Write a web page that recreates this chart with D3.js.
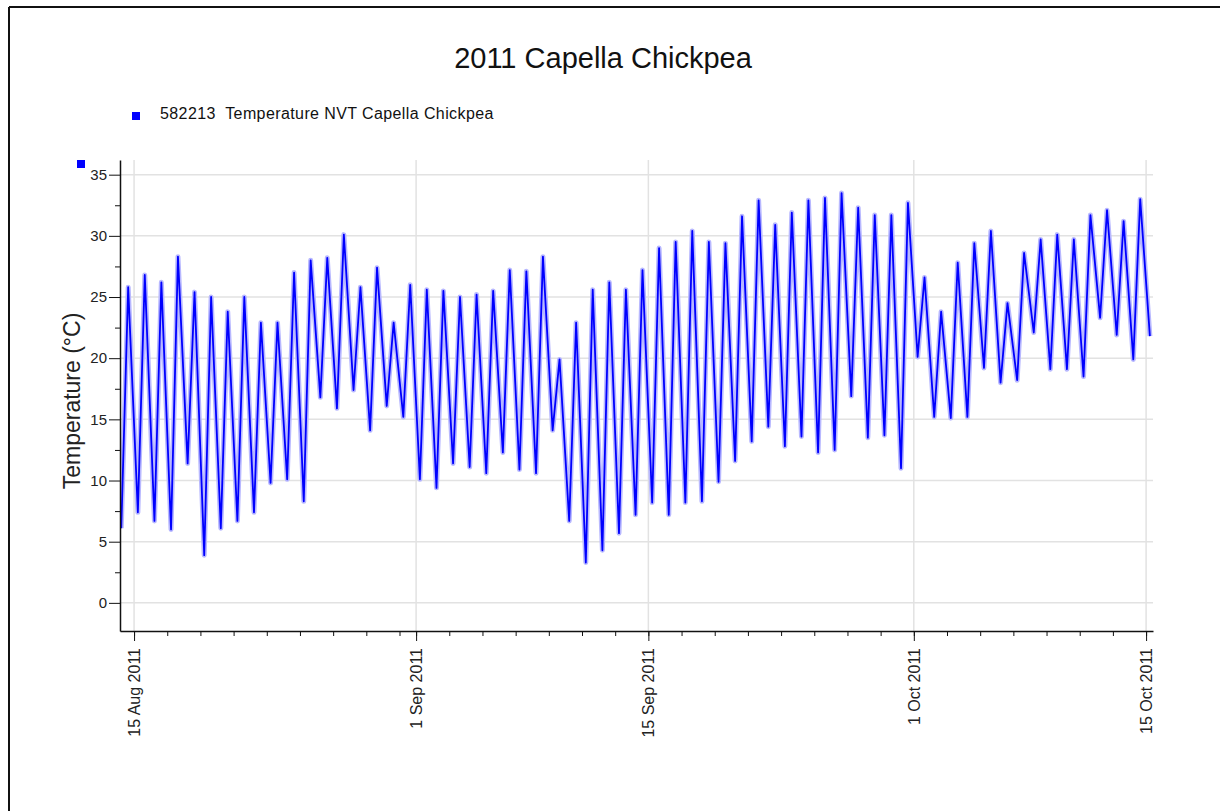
<!DOCTYPE html>
<html>
<head>
<meta charset="utf-8">
<script src="https://cdn.jsdelivr.net/npm/d3@7"></script>
<style>
    body { margin: 0; background: #fff; }
    svg { display: block; font-family: 'Liberation Sans', Arial, sans-serif; }
</style>
</head>
<body>
<div id="chart"></div>
<script>
// Daily maximum temperatures (afternoon), 14 Aug 2011 to 14 Oct 2011.
var maxTemps = [25.8, 26.8, 26.2, 28.3, 25.4, 25.0, 23.8, 25.0, 22.9, 22.9,
    27.0, 28.0, 28.2, 30.1, 25.8, 27.4, 22.9, 26.0, 25.6, 25.5,
    25.0, 25.2, 25.5, 27.2, 27.1, 28.3, 19.9, 22.9, 25.6, 26.2,
    25.6, 27.2, 29.0, 29.5, 30.4, 29.5, 29.4, 31.6, 32.9, 30.9,
    31.9, 32.9, 33.1, 33.5, 32.3, 31.7, 31.7, 32.7, 26.6, 23.8,
    27.8, 29.4, 30.4, 24.5, 28.6, 29.7, 30.1, 29.7, 31.7, 32.1,
    31.2, 33.0];
// Daily minimum temperatures (early morning), 14 Aug 2011 to 15 Oct 2011.
var minTemps = [6.1, 7.4, 6.7, 6.0, 11.4, 3.9, 6.1, 6.7, 7.4, 9.8,
    10.1, 8.3, 16.8, 15.9, 17.4, 14.1, 16.1, 15.2, 10.1, 9.4,
    11.4, 11.1, 10.6, 12.3, 10.9, 10.6, 14.1, 6.7, 3.3, 4.3,
    5.7, 7.2, 8.2, 7.2, 8.2, 8.3, 9.9, 11.6, 13.2, 14.4,
    12.8, 13.6, 12.3, 12.5, 16.9, 13.5, 13.7, 11.0, 20.1, 15.2,
    15.1, 15.2, 19.2, 18.0, 18.2, 22.1, 19.1, 19.1, 18.5, 23.3,
    21.9, 19.9, 21.8];
// Major date ticks and value ticks.
var dateTicks = ['2011-08-15', '2011-09-01', '2011-09-15', '2011-10-01', '2011-10-15'];
var tempTicks = [0, 5, 10, 15, 20, 25, 30, 35];

var title = '2011 Capella Chickpea';
var seriesName = '582213  Temperature NVT Capella Chickpea';

var width = 1220, height = 811;
var plot = {left: 120, right: 1153, top: 160, bottom: 631};

var parseDay = d3.timeParse('%Y-%m-%d');
var firstDay = parseDay('2011-08-14');

// Build the series: a morning minimum and an afternoon maximum per day.
var points = [];
minTemps.forEach(function (v, i) {
    var day = d3.timeDay.offset(firstDay, i);
    points.push({date: d3.timeMinute.offset(day, 330), value: v});
    if (i < maxTemps.length) {
        points.push({date: d3.timeMinute.offset(day, 930), value: maxTemps[i]});
    }
});

var svg = d3.select('#chart').append('svg')
    .attr('width', width)
    .attr('height', height);

// Frame lines at the top and left of the picture.
svg.append('line').attr('x1', 9).attr('y1', 7).attr('x2', width).attr('y2', 7)
    .attr('stroke', '#111').attr('stroke-width', 2);
svg.append('line').attr('x1', 9).attr('y1', 7).attr('x2', 9).attr('y2', height)
    .attr('stroke', '#111').attr('stroke-width', 2);

// Scales.
var xScale = d3.scaleTime()
    .domain([new Date(2011, 7, 14, 3, 40), new Date(2011, 9, 15, 10, 0)])
    .range([plot.left, plot.right]);
var yScale = d3.scaleLinear()
    .domain([-2.3, 36.2])
    .range([plot.bottom, plot.top]);

var majorDates = dateTicks.map(parseDay);
var minorDates = d3.timeDay.range(parseDay('2011-08-15'), parseDay('2011-10-16'))
    .filter(function (d) { return d.getDate() % 2 === 1; });
var minorTemps = d3.range(2.5, 36, 5);

// Grid lines.
var grid = svg.append('g').attr('stroke', '#e2e2e2').attr('stroke-width', 1.5);
grid.selectAll('.hgrid').data(tempTicks).enter().append('line')
    .attr('x1', plot.left).attr('x2', plot.right)
    .attr('y1', function (d) { return yScale(d); })
    .attr('y2', function (d) { return yScale(d); });
grid.selectAll('.vgrid').data(majorDates).enter().append('line')
    .attr('y1', plot.top).attr('y2', plot.bottom)
    .attr('x1', function (d) { return xScale(d); })
    .attr('x2', function (d) { return xScale(d); });

// Temperature line, with a pale halo underneath.
svg.append('clipPath').attr('id', 'clip').append('rect')
    .attr('x', plot.left).attr('y', plot.top)
    .attr('width', plot.right - plot.left).attr('height', plot.bottom - plot.top);
var line = d3.line()
    .x(function (d) { return xScale(d.date); })
    .y(function (d) { return yScale(d.value); });
var lines = svg.append('g').attr('clip-path', 'url(#clip)');
lines.append('path').datum(points)
    .attr('d', line)
    .attr('fill', 'none')
    .attr('stroke', '#b8b8ff')
    .attr('stroke-width', 5)
    .attr('stroke-linejoin', 'round');
lines.append('path').datum(points)
    .attr('d', line)
    .attr('fill', 'none')
    .attr('stroke', '#0000ff')
    .attr('stroke-width', 1.8)
    .attr('stroke-linejoin', 'round');

// Y axis: major ticks with labels, minor ticks between.
var yAxis = svg.append('g')
    .attr('transform', 'translate(' + plot.left + ',0)')
    .call(d3.axisLeft(yScale).tickValues(tempTicks).tickSize(11).tickPadding(2).tickSizeOuter(0))
    .attr('font-family', null);
yAxis.selectAll('text').attr('font-size', 15).attr('fill', '#222');
svg.append('g')
    .attr('transform', 'translate(' + plot.left + ',0)')
    .call(d3.axisLeft(yScale).tickValues(minorTemps).tickSize(5).tickFormat('').tickSizeOuter(0))
    .select('.domain').remove();

// X axis: major date ticks with rotated labels, minor ticks every two days.
var fmt = d3.timeFormat('%-d %b %Y');
var xAxis = svg.append('g')
    .attr('transform', 'translate(0,' + plot.bottom + ')')
    .call(d3.axisBottom(xScale).tickValues(majorDates).tickFormat(fmt).tickSize(10).tickSizeOuter(0))
    .attr('font-family', null);
xAxis.selectAll('text')
    .attr('font-size', 16)
    .attr('fill', '#222')
    .attr('text-anchor', 'end')
    .attr('transform', 'rotate(-90)')
    .attr('x', -17)
    .attr('y', 0)
    .attr('dy', '0.35em');
svg.append('g')
    .attr('transform', 'translate(0,' + plot.bottom + ')')
    .call(d3.axisBottom(xScale).tickValues(minorDates).tickSize(5).tickFormat('').tickSizeOuter(0))
    .select('.domain').remove();
svg.selectAll('.domain').attr('stroke', '#111').attr('stroke-width', 1.5);
svg.selectAll('.tick line').attr('stroke', '#111');

// Y axis title.
svg.append('text')
    .attr('transform', 'translate(80,401) rotate(-90)')
    .attr('text-anchor', 'middle')
    .attr('font-size', 23)
    .attr('fill', '#222')
    .text('Temperature (°C)');

// Chart title.
svg.append('text')
    .attr('x', 603)
    .attr('y', 68)
    .attr('text-anchor', 'middle')
    .attr('font-size', 29)
    .attr('fill', '#111')
    .text(title);

// Legend.
svg.append('rect').attr('x', 132).attr('y', 112).attr('width', 8).attr('height', 8).attr('fill', '#0000ff');
svg.append('text')
    .attr('x', 160)
    .attr('y', 119)
    .attr('font-size', 16)
    .attr('letter-spacing', 0.4)
    .style('white-space', 'pre')
    .attr('fill', '#111')
    .text(seriesName);

// Small marker at the top of the value axis.
svg.append('rect').attr('x', 77).attr('y', 160).attr('width', 8).attr('height', 8).attr('fill', '#0000ff');
</script>
</body>
</html>
